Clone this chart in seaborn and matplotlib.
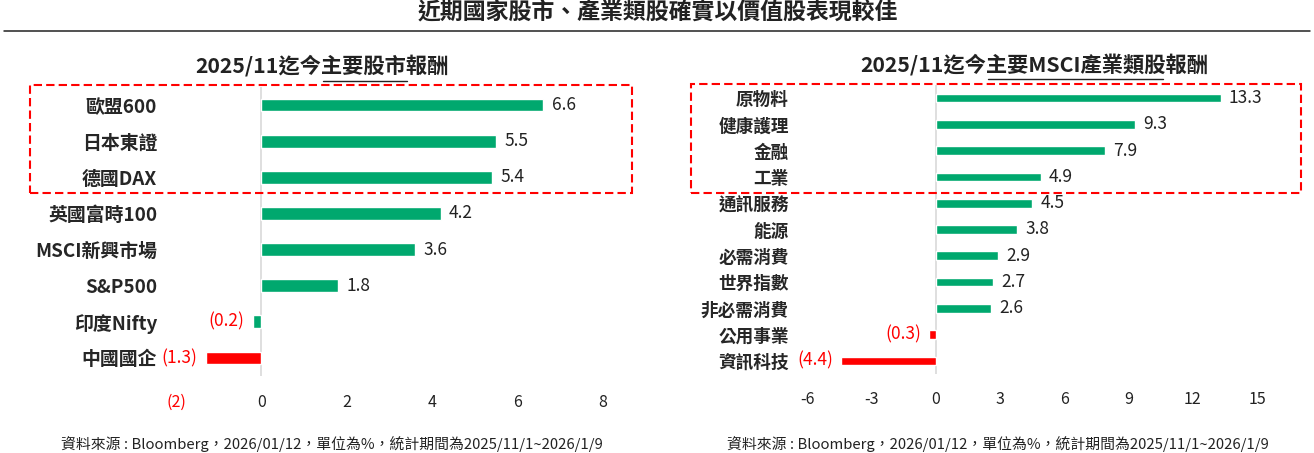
import matplotlib
matplotlib.use("Agg")
import matplotlib.pyplot as plt
import matplotlib.patches as mpatches
from matplotlib.lines import Line2D
import pandas as pd
import seaborn as sns

# ---- data ----
title = "近期國家股市、產業類股確實以價值股表現較佳"
source_note = "資料來源 : Bloomberg，2026/01/12，單位為%，統計期間為2025/11/1~2026/1/9"

market_title = "2025/11迄今主要股市報酬"
market_names = ["歐盟600", "日本東證", "德國DAX", "英國富時100", "MSCI新興市場",
                "S&P500", "印度Nifty", "中國國企"]
market_returns = [6.6, 5.5, 5.4, 4.2, 3.6, 1.8, -0.2, -1.3]
market_ticks = [-2, 0, 2, 4, 6, 8]

sector_title = "2025/11迄今主要MSCI產業類股報酬"
sector_names = ["原物料", "健康護理", "金融", "工業", "通訊服務", "能源", "必需消費",
                "世界指數", "非必需消費", "公用事業", "資訊科技"]
sector_returns = [13.3, 9.3, 7.9, 4.9, 4.5, 3.8, 2.9, 2.7, 2.6, -0.3, -4.4]
sector_ticks = [-6, -3, 0, 3, 6, 9, 12, 15]

# ---- style ----
GREEN = "#00A86E"
RED = "#FF0000"
FONT = ["Noto Sans CJK TC", "DejaVu Sans"]
W, H = 1314, 453

sns.set_style("white")
plt.rcParams["font.family"] = FONT


def fx(px):
    return px / W


def fy(py):
    return 1 - py / H


fig = plt.figure(figsize=(W / 100, H / 100), dpi=100)


def draw_panel(rect_px, names, values, ticks, bar_colors, bar_w, label_size,
               tick_fmt, label_pad):
    left, top, right, bottom = rect_px
    ax = fig.add_axes([fx(left), fy(bottom), fx(right - left), (bottom - top) / H])
    df = pd.DataFrame({"name": names, "value": values})
    sns.barplot(data=df, x="value", y="name", hue="name",
                palette=dict(zip(names, bar_colors)), legend=False,
                orient="h", width=bar_w, saturation=1, ax=ax)
    ax.set_xlim(ticks[0], ticks[-1])
    ax.set_ylim(len(names) - 0.5, -0.5)
    ax.axvline(0, color="#D9D9D9", lw=1.2, zorder=0)
    for s in ax.spines.values():
        s.set_visible(False)
    ax.set_xlabel("")
    ax.set_ylabel("")
    ax.set_xticks(ticks)
    ax.set_xticklabels([tick_fmt(t) for t in ticks])
    for t, lab in zip(ticks, ax.get_xticklabels()):
        lab.set_color(RED if tick_fmt(t).startswith("(") else "#222222")
    ax.tick_params(axis="x", length=0, pad=label_pad[0], labelsize=11.5)
    ax.tick_params(axis="y", length=0, pad=label_pad[1], labelsize=label_size)
    for lab in ax.get_yticklabels():
        lab.set_fontweight("bold")
        lab.set_color("#262626")
    for i, v in enumerate(values):
        if v >= 0:
            ax.annotate(f"{v:.1f}", (v, i), xytext=(6, 0), textcoords="offset points",
                        ha="left", va="center", fontsize=12.5, color="#222222")
        else:
            ax.annotate(f"({abs(v):.1f})", (v, i), xytext=(-6, 0),
                        textcoords="offset points", ha="right", va="center",
                        fontsize=12.5, color=RED)
    return ax


market_colors = [GREEN] * 7 + [RED]
sector_colors = [GREEN] * 9 + [RED, RED]

draw_panel((176, 87, 603, 376), market_names, market_returns, market_ticks,
           market_colors, 0.35, 13.6,
           lambda t: f"({abs(t)})" if t < 0 else f"{t}", (13, 13.5))
draw_panel((807, 85, 1257, 374), sector_names, sector_returns, sector_ticks,
           sector_colors, 0.33, 12.7,
           lambda t: f"{t}", (12, 13))

# titles and notes
fig.text(fx(658), fy(12), title, ha="center", va="center", fontsize=16.5,
         fontweight="bold", color="#222222")
fig.add_artist(Line2D([fx(4), fx(1310)], [fy(31), fy(31)], color="#222222",
                      lw=1.1, transform=fig.transFigure))

fig.text(fx(322), fy(66), market_title, ha="center", va="center", fontsize=15.3,
         fontweight="bold", color="#222222")
fig.add_artist(Line2D([fx(323), fx(407)], [fy(81), fy(81)], color="#222222",
                      lw=1.0, transform=fig.transFigure))
fig.text(fx(1034), fy(65), sector_title, ha="center", va="center", fontsize=15.3,
         fontweight="bold", color="#222222")
fig.add_artist(Line2D([fx(988), fx(1163)], [fy(79), fy(79)], color="#222222",
                      lw=1.0, transform=fig.transFigure))

for cx in (332, 998):
    fig.text(fx(cx), fy(444), source_note, ha="center", va="center",
             fontsize=10.7, color="#222222")

# dashed highlight boxes
for x0, y0, x1, y1 in [(30, 85, 632, 193), (691, 84, 1301, 193)]:
    fig.add_artist(mpatches.Rectangle((fx(x0), fy(y1)), fx(x1 - x0), (y1 - y0) / H,
                                      fill=False, edgecolor=RED, lw=1.5,
                                      linestyle=(0, (4, 2)),
                                      transform=fig.transFigure))

fig.savefig("out.png", dpi=100)
